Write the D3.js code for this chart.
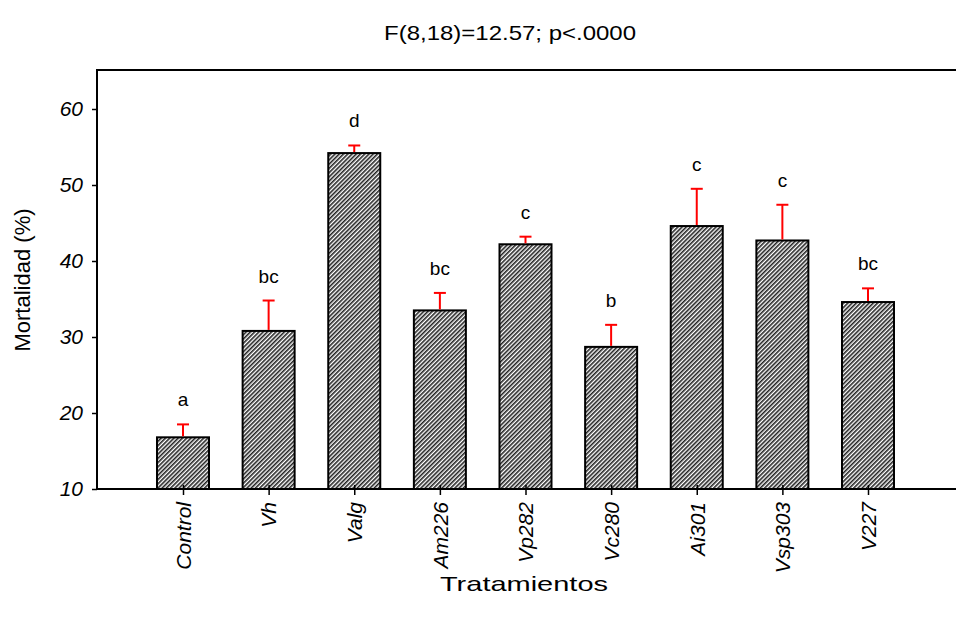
<!DOCTYPE html>
<html>
<head>
<meta charset="utf-8">
<script src="https://cdn.jsdelivr.net/npm/d3@7"></script>
<style>
  body { margin: 0; background: #fff; }
  svg text { font-family: "Liberation Sans", Arial, sans-serif; }
</style>
</head>
<body>
<svg id="chart" width="956" height="619"></svg>
<script>
// data
const categories = ['Control', 'Vh', 'Valg', 'Am226', 'Vp282', 'Vc280', 'Ai301', 'Vsp303', 'V227'];
const means = [16.8, 30.8, 54.2, 33.5, 42.2, 28.7, 44.6, 42.7, 34.6];
const errors = [1.7, 4.0, 1.0, 2.3, 1.0, 2.9, 4.9, 4.7, 1.8];
const letters = ['a', 'bc', 'd', 'bc', 'c', 'b', 'c', 'c', 'bc'];
const yTicks = [10, 20, 30, 40, 50, 60];
const title = 'F(8,18)=12.57; p<.0000';

const svg = d3.select('#chart');
const m = { left: 97, top: 70, right: 956, bottom: 489 };
const FONT = '"Liberation Sans", Arial, sans-serif';

// hatch pattern
const defs = svg.append('defs');
const pat = defs.append('pattern')
  .attr('id', 'hatch').attr('patternUnits', 'userSpaceOnUse')
  .attr('width', 3).attr('height', 3)
  .attr('patternTransform', 'rotate(45)');
pat.append('rect').attr('width', 3).attr('height', 3).attr('fill', '#fff');
pat.append('rect').attr('width', 1.6).attr('height', 3).attr('fill', '#222');

const x = d3.scalePoint().domain(categories).range([183, 868]);
const y = d3.scaleLinear().domain([10, 60]).range([489, 109]);
const barW = 52;

// frame top line
svg.append('line').attr('x1', m.left).attr('x2', m.right).attr('y1', m.top).attr('y2', m.top)
  .attr('stroke', '#000').attr('stroke-width', 2);

// bars
svg.append('g').selectAll('rect').data(categories).enter().append('rect')
  .attr('x', d => x(d) - barW / 2)
  .attr('y', (d, i) => y(means[i]))
  .attr('width', barW)
  .attr('height', (d, i) => y(10) - y(means[i]))
  .attr('fill', 'url(#hatch)')
  .attr('stroke', '#000').attr('stroke-width', 2);

// error bars
const eg = svg.append('g').attr('stroke', '#ff0000').attr('stroke-width', 2);
categories.forEach((c, i) => {
  const top = y(means[i] + errors[i]);
  eg.append('line').attr('x1', x(c)).attr('x2', x(c)).attr('y1', y(means[i]) - 1).attr('y2', top);
  eg.append('line').attr('x1', x(c) - 6).attr('x2', x(c) + 6).attr('y1', top).attr('y2', top);
});

// letters
svg.append('g').selectAll('text').data(letters).enter().append('text')
  .attr('x', (d, i) => x(categories[i]))
  .attr('y', (d, i) => y(means[i] + errors[i]) - 18)
  .attr('text-anchor', 'middle').attr('font-size', 19).attr('fill', '#000')
  .text(d => d);

// y axis
const yAxis = svg.append('g').attr('transform', `translate(${m.left},0)`)
  .call(d3.axisLeft(y).tickValues(yTicks).tickSize(5).tickPadding(9));
yAxis.select('.domain').remove();
yAxis.selectAll('line').attr('stroke', '#000').attr('stroke-width', 1.5);
yAxis.selectAll('text').attr('font-size', 21).attr('font-style', 'italic')
  .attr('font-family', FONT).attr('fill', '#000');
svg.append('line').attr('x1', m.left).attr('x2', m.left).attr('y1', m.top - 1).attr('y2', m.bottom + 1)
  .attr('stroke', '#000').attr('stroke-width', 2);

// x axis
const xAxis = svg.append('g').attr('transform', `translate(0,${m.bottom})`)
  .call(d3.axisBottom(x).tickSize(6).tickPadding(10));
xAxis.select('.domain').remove();
xAxis.selectAll('line').attr('y1', -4).attr('stroke', '#000').attr('stroke-width', 1.5);
xAxis.selectAll('text')
  .attr('font-size', 21).attr('font-style', 'italic').attr('fill', '#000')
  .attr('font-family', FONT)
  .attr('transform', 'rotate(-90)')
  .attr('x', -13).attr('y', 0).attr('dy', '0.35em')
  .attr('text-anchor', 'end');
svg.append('line').attr('x1', m.left).attr('x2', m.right).attr('y1', m.bottom).attr('y2', m.bottom)
  .attr('stroke', '#000').attr('stroke-width', 2);

// titles
svg.append('text').attr('x', 510).attr('y', 40).attr('text-anchor', 'middle')
  .attr('font-size', 21).attr('textLength', 252).attr('lengthAdjust', 'spacingAndGlyphs')
  .text(title);
svg.append('text').attr('x', 524).attr('y', 591).attr('text-anchor', 'middle')
  .attr('font-size', 21).attr('textLength', 168).attr('lengthAdjust', 'spacingAndGlyphs')
  .text('Tratamientos');
svg.append('text').attr('transform', 'translate(30,280) rotate(-90)').attr('text-anchor', 'middle')
  .attr('font-size', 22).text('Mortalidad (%)');
</script>
</body>
</html>
